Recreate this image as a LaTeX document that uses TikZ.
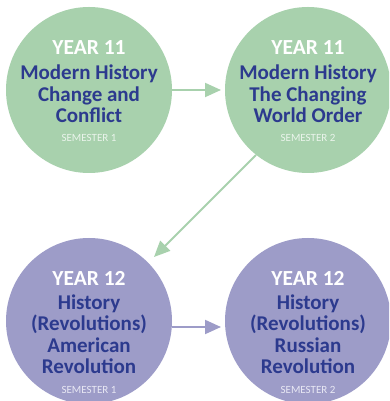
\documentclass[tikz,border=0pt]{standalone}
\usepackage{fontspec}
\setmainfont{Carlito}
\usetikzlibrary{arrows.meta,calc}
\definecolor{cgreen}{HTML}{A8D1AD}
\definecolor{cpurple}{HTML}{9D9CC8}
\definecolor{ctext}{HTML}{2C3A8E}
\definecolor{csemg}{HTML}{EAF4EB}
\definecolor{csemp}{HTML}{E8E8F4}
\begin{document}
\begin{tikzpicture}[x=1pt,y=1pt,
  bubble/.style={circle,minimum size=166pt,inner sep=0pt},
  yeartxt/.style={text=white,font=\bfseries\fontsize{21.5}{22}\selectfont,inner sep=0pt},
  bodytxt/.style={text=ctext,font=\bfseries\fontsize{21}{21.5}\selectfont,inner sep=0pt,align=center},
  semtxt/.style={font=\fontsize{11}{12}\selectfont,inner sep=0pt},
  garrow/.style={draw=cgreen,line width=2pt,-{Triangle[length=16pt,width=14pt]}},
  parrow/.style={draw=cpurple,line width=2pt,-{Triangle[length=16pt,width=14pt]}}]
\useasboundingbox (0,0) rectangle (389,401);
\clip (0,0) rectangle (389,401);
% circles
\node[bubble,fill=cgreen] (c1) at (89,311) {};
\node[bubble,fill=cgreen] (c2) at (308,311) {};
\node[bubble,fill=cpurple] (c3) at (89,80) {};
\node[bubble,fill=cpurple] (c4) at (308,80) {};
% texts circle 1
\node[yeartxt] (y1) at ($(c1)+(0,42)$) {YEAR 11};
\node[bodytxt] (b1) at ($(c1)+(0,-4)$) {Modern History\\Change and\\Conflict};
\node[semtxt,text=csemg] (s1) at ($(c1)+(0,-48)$) {SEMESTER 1};
% texts circle 2
\node[yeartxt] (y2) at ($(c2)+(0,42)$) {YEAR 11};
\node[bodytxt] (b2) at ($(c2)+(0,-4)$) {Modern History\\The Changing\\World Order};
\node[semtxt,text=csemg] (s2) at ($(c2)+(0,-48)$) {SEMESTER 2};
% texts circle 3
\node[yeartxt] (y3) at ($(c3)+(0,43)$) {YEAR 12};
\node[bodytxt] (b3) at ($(c3)+(0,-13)$) {History\\(Revolutions)\\American\\Revolution};
\node[semtxt,text=csemp] (s3) at ($(c3)+(0,-69)$) {SEMESTER 1};
% texts circle 4
\node[yeartxt] (y4) at ($(c4)+(0,43)$) {YEAR 12};
\node[bodytxt] (b4) at ($(c4)+(0,-13)$) {History\\(Revolutions)\\Russian\\Revolution};
\node[semtxt,text=csemp] (s4) at ($(c4)+(0,-69)$) {SEMESTER 2};
% connectors
\coordinate (a1s) at (172,311);
\coordinate (a1e) at (221,311);
\draw[garrow] (a1s) -- (a1e);
\coordinate (a2s) at (256,246);
\coordinate (a2e) at (154,144);
\draw[garrow] (a2s) -- (a2e);
\coordinate (a3s) at (172,74);
\coordinate (a3e) at (221,74);
\draw[parrow] (a3s) -- (a3e);
\end{tikzpicture}
\end{document}
